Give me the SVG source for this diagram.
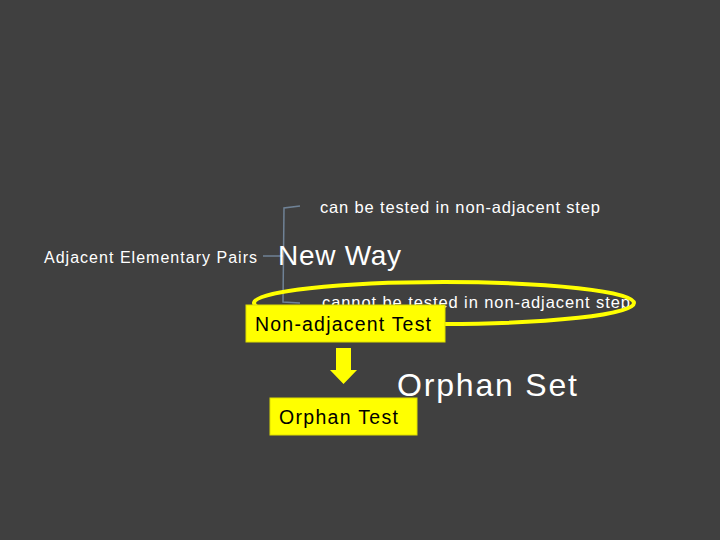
<svg xmlns="http://www.w3.org/2000/svg" width="720" height="540" viewBox="0 0 720 540">
<style>
text{font-family:"Liberation Sans",Arial,sans-serif;}
.w{fill:#ffffff;}
.k{fill:#000000;}
.box{fill:#ffff00;stroke:#dede00;stroke-width:1;}
.br{fill:none;stroke:#6f8296;stroke-width:1.5;}
</style>
<rect width="720" height="540" fill="#404040"/>
<g id="connectors">
<path class="br" d="M300,206 L284,208 L283,302 L300,303"/>
<path class="br" d="M263,256 L283,256"/>
</g>
<g id="pairs"><text class="w" x="44" y="263" font-size="16" textLength="213">Adjacent Elementary Pairs</text></g>
<g id="can"><text class="w" x="320" y="213" font-size="16.5" textLength="280">can be tested in non-adjacent step</text></g>
<g id="newway"><text class="w" x="278" y="265" font-size="28" textLength="123">New Way</text></g>
<g id="cannot"><text class="w" x="322" y="308" font-size="16.5" textLength="308">cannot be tested in non-adjacent step</text></g>
<g id="ellipse"><ellipse cx="444" cy="303" rx="190" ry="21" fill="none" stroke="#ffff00" stroke-width="4"/></g>
<g id="nonadj"><rect class="box" x="246" y="305" width="199" height="37"/><text class="k" x="255" y="331" font-size="19.5" textLength="176">Non-adjacent Test</text></g>
<g id="arrow"><polygon fill="#ffff00" points="336,348 351,348 351,370 357,370 343.5,384 330,370 336,370"/></g>
<g id="orphanset"><text class="w" x="397" y="396" font-size="32" textLength="180">Orphan Set</text></g>
<g id="orphantest"><rect class="box" x="270" y="398" width="147" height="37"/><text class="k" x="279" y="424" font-size="19.5" textLength="119">Orphan Test</text></g>
</svg>
